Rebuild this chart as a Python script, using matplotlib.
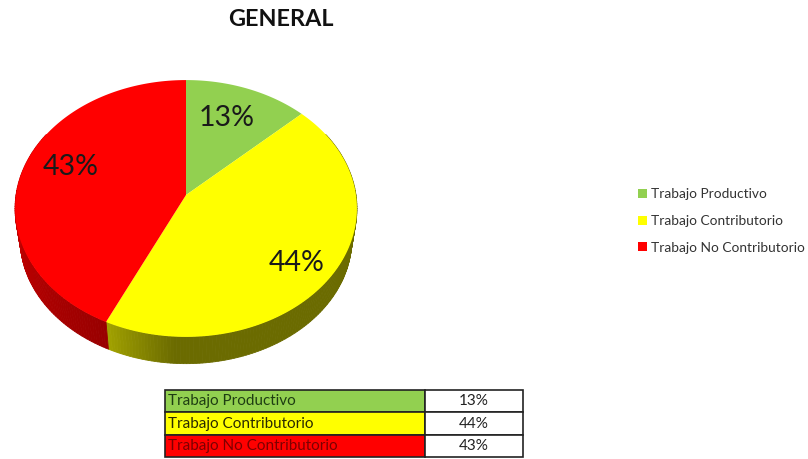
import numpy as np
import matplotlib
matplotlib.use('Agg')
import matplotlib.pyplot as plt
from matplotlib.patches import Polygon, Patch

plt.rcParams['font.family'] = ['Lato', 'DejaVu Sans']

categories = ['Trabajo Productivo', 'Trabajo Contributorio', 'Trabajo No Contributorio']
shares = [13, 44, 43]
share_labels = ['13%', '44%', '43%']
colors = ['#92D050', '#FFFF00', '#FF0000']
label_pos = [(227, 118), (297, 263), (71, 167)]
table_text = ['#1e3d12', '#2a2a00', '#7d0000']

W, H = 808, 459
APEX_X, APEX_Y = 186, 195
RX, RY, PERSP = 170, 127, 0.105
DEPTH = 27


def rim(deg, scale=1.0, drop=0.0):
    # deg is clockwise from 12 o'clock, tilted disc seen in perspective
    a = np.radians(deg)
    u, v = np.sin(a), np.cos(a)
    w = 1 + PERSP * v
    return APEX_X + scale * RX * u / w, APEX_Y - scale * RY * v / w + drop


fig = plt.figure(figsize=(W / 100, H / 100), dpi=100)
ax = fig.add_axes([0, 0, 1, 1])
ax.set_xlim(0, W)
ax.set_ylim(H, 0)
ax.axis('off')

edges = np.cumsum([0] + shares) / sum(shares) * 360

# side wall, only the front part of the rim shows
side_start = {1: (0.64, 0.64, 0.0), 2: (0.80, 0.0, 0.0)}
side_end = {1: (0.42, 0.42, 0.0), 2: (0.60, 0.0, 0.0)}
for i in (1, 2):
    angles = np.arange(edges[i], edges[i + 1], 1.0)
    angles = np.append(angles, edges[i + 1])
    for a0, a1 in zip(angles[:-1], angles[1:]):
        if a1 < 60 or a0 > 300:
            continue
        x0, y0 = rim(a0)
        x1, y1 = rim(a1)
        x2, y2 = rim(a1, 0.97, DEPTH + 4)
        x3, y3 = rim(a0, 0.97, DEPTH + 4)
        if i == 1:
            t = np.clip((edges[2] - a0) / 22, 0, 1)
            c = np.array(side_end[1]) + (np.array(side_start[1]) - np.array(side_end[1])) * (1 - t)
        else:
            t = np.clip((a0 - edges[2]) / 70, 0, 1)
            c = np.array(side_end[2]) + (np.array(side_start[2]) - np.array(side_end[2])) * t
        ax.add_patch(Polygon([(x0, y0), (x1, y1), (x2, y2), (x3, y3)], closed=True,
                             facecolor=c, edgecolor=c, lw=0.6))

# top face
for i, col in enumerate(colors):
    angles = np.linspace(edges[i], edges[i + 1], 120)
    xs, ys = rim(angles)
    pts = [(APEX_X, APEX_Y)] + list(zip(xs, ys))
    ax.add_patch(Polygon(pts, closed=True, facecolor=col, edgecolor='none'))

for (x, y), s in zip(label_pos, share_labels):
    ax.text(x, y, s, fontsize=20.5, color='#1a1a1a', ha='center', va='center')

ax.text(281, 20, 'GENERAL', fontsize=16.8, fontweight='bold', color='#111111',
        ha='center', va='center')

handles = [Patch(facecolor=c, edgecolor='none') for c in colors]
ax.legend(handles, categories, loc='center left', bbox_to_anchor=(631 / W, 1 - 221 / H),
          frameon=False, fontsize=9.9, labelcolor='#333333', handlelength=0.65, handleheight=0.65,
          handletextpad=0.3, labelspacing=1.07, borderpad=0, borderaxespad=0.5)

# table under the pie
t_x0, t_x1, t_split = 165, 523, 425
t_y0, t_y1 = 390, 457
rows = [[c, s] for c, s in zip(categories, share_labels)]
cell_colors = [[c, '#FFFFFF'] for c in colors]
tb = ax.table(cellText=rows, cellColours=cell_colors,
              colWidths=[(t_split - t_x0) / (t_x1 - t_x0), (t_x1 - t_split) / (t_x1 - t_x0)],
              bbox=[t_x0 / W, 1 - t_y1 / H, (t_x1 - t_x0) / W, (t_y1 - t_y0) / H])
tb.auto_set_font_size(False)
for (r, c), cell in tb.get_celld().items():
    cell.set_edgecolor('#222222')
    cell.set_linewidth(1.2)
    txt = cell.get_text()
    txt.set_fontsize(11)
    if c == 0:
        cell.set_text_props(ha='left', color=table_text[r])
        cell.PAD = 0.01
    else:
        cell.set_text_props(ha='center', color='#222222')

fig.savefig('out.png', dpi=100)
